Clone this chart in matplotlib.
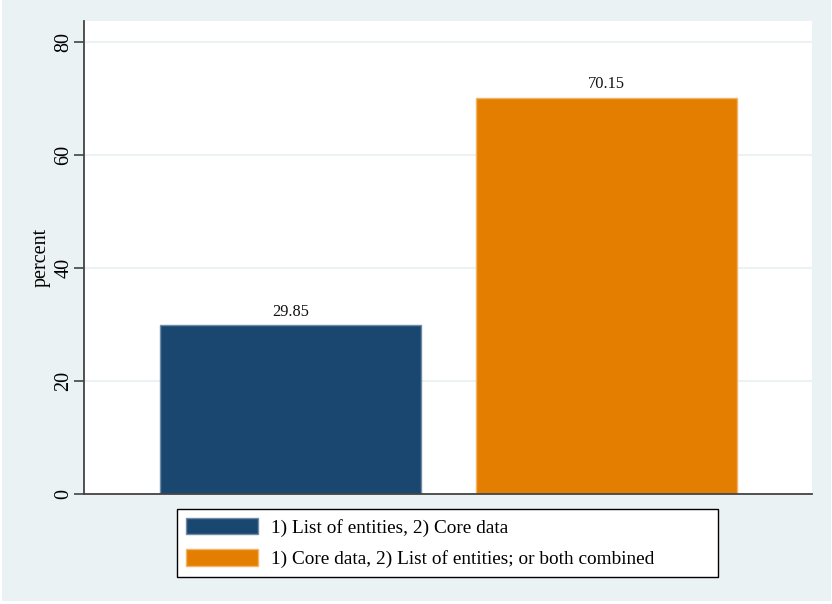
import matplotlib
matplotlib.use("Agg")
import matplotlib.pyplot as plt
from matplotlib.patches import Patch, Rectangle

categories = ["1) List of entities, 2) Core data",
              "1) Core data, 2) List of entities; or both combined"]
values = [29.85, 70.15]
colors = ["#1a476f", "#e37e00"]
edge_colors = ["#6f8ba5", "#f3b46a"]
yticks = [0, 20, 40, 60, 80]

plt.rcParams['font.family'] = ['Liberation Serif', 'DejaVu Serif']

fig = plt.figure(figsize=(8.32, 6.04), dpi=100)
fig.patch.set_facecolor("white")
fig.patches.append(Rectangle((2/832, 3/604), 829/832, 601/604, transform=fig.transFigure,
                             facecolor="#eaf2f3", edgecolor="none", zorder=-10))
ax = fig.add_axes([84/832, 1-494/604, (812-84)/832, (494-21)/604])
ax.set_facecolor("white")

x = [1, 2]
bars = ax.bar(x, values, width=0.826, color=colors, edgecolor=edge_colors,
              linewidth=1.0, zorder=3)
for xi, v in zip(x, values):
    ax.annotate(f"{v:.2f}", (xi, v), xytext=(0, 4), textcoords="offset points",
                ha="center", va="bottom", fontsize=11.8, color="#111111")

ax.set_xlim(0.3465, 2.650)
ax.set_ylim(0, 83.7)
ax.set_yticks(yticks)
ax.set_yticklabels([str(t) for t in yticks], rotation=90, va="center", fontsize=14.5)
ax.set_xticks([])
ax.yaxis.grid(True, color="#eaf2f3", linewidth=1.5, zorder=0)
ax.tick_params(axis="y", length=7, width=1.2, color="#444444", pad=0.5)
for s in ["top", "right"]:
    ax.spines[s].set_visible(False)
for s in ["left", "bottom"]:
    ax.spines[s].set_color("#444444")
    ax.spines[s].set_linewidth(1.3)
    ax.spines[s].set_zorder(4)
ax.set_ylabel("percent", fontsize=14.5, labelpad=3)

handles = [Patch(facecolor=c, edgecolor=e, linewidth=1.0) for c, e in zip(colors, edge_colors)]
leg = fig.legend(handles, categories, loc="upper left",
                 bbox_to_anchor=(177/832, 1-576/604, (718-177)/832, (576-509)/604),
                 mode="expand", fontsize=13.9, frameon=True, fancybox=False,
                 edgecolor="black", facecolor="white", framealpha=1,
                 handlelength=3.73, handleheight=0.93, handletextpad=0.67,
                 labelspacing=0.65, borderpad=0.45, borderaxespad=0)
leg.get_frame().set_linewidth(1.0)

fig.savefig("out.png", dpi=100, facecolor=fig.get_facecolor())
